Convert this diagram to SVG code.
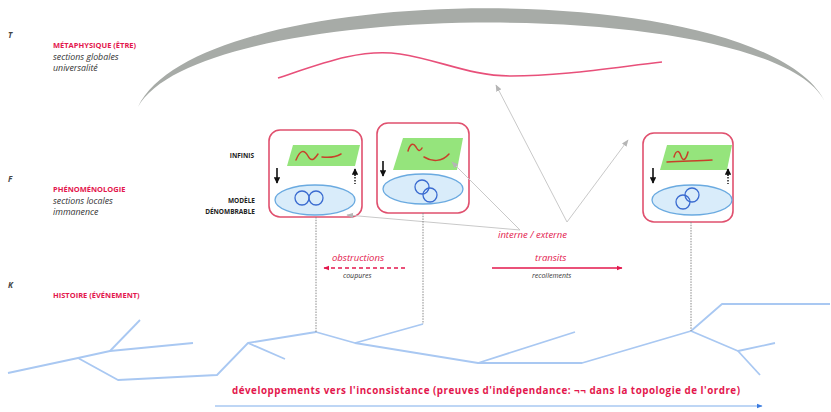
<svg xmlns="http://www.w3.org/2000/svg" width="831" height="412" viewBox="0 0 831 412">
<style>
.lbl{font-family:"Open Sans","Liberation Sans",sans-serif}
.axis{font-size:8px;font-style:italic;font-weight:bold;fill:#444}
.red{fill:#e3174d;font-weight:bold;font-size:7.5px}
.it{font-style:italic;fill:#333;font-size:8.8px}
.cap{font-weight:bold;font-size:6.5px;fill:#222}
.redit{fill:#e3174d;font-style:italic;font-size:9.5px}
.sm{font-style:italic;fill:#333;font-size:7px}
.box{fill:#fff;stroke:#e0506e;stroke-width:1.6}
.grn{fill:#95e47c}
.sq{fill:none;stroke:#c8402a;stroke-width:1.5;stroke-linecap:round}
.ell{fill:#d9ecfa;stroke:#6aaae0;stroke-width:1.3}
.cir{fill:none;stroke:#3a6bd0;stroke-width:1.3}
.blk{stroke:#111;stroke-width:1.6}
.dotv{stroke:#888;stroke-width:1;stroke-dasharray:1.5 1.2}
.tree{fill:none;stroke:#a9c8f2;stroke-width:1.8;stroke-linejoin:round}
.gl{stroke:#c9c9c9;stroke-width:1;fill:none}
</style>
<defs>
<marker id="ga" viewBox="0 0 10 10" refX="9" refY="5" markerWidth="7" markerHeight="7" orient="auto"><path d="M0,1 L10,5 L0,9 z" fill="#b5b5b5"/></marker>
<marker id="ka" viewBox="0 0 10 10" refX="9" refY="5" markerWidth="4" markerHeight="4" orient="auto"><path d="M0,0 L10,5 L0,10 z" fill="#111"/></marker>
<marker id="ra" viewBox="0 0 10 10" refX="9" refY="5" markerWidth="4.5" markerHeight="4.5" orient="auto"><path d="M0,1 L10,5 L0,9 z" fill="#e3174d"/></marker>
<marker id="ba" viewBox="0 0 10 10" refX="9" refY="5" markerWidth="4" markerHeight="4" orient="auto"><path d="M0,1 L10,5 L0,9 z" fill="#3a7be0"/></marker>
</defs>

<g id="arc">
<path d="M138,107 C200,-24 770,-24 826,104 C780,-5 200,-5 138,107 z" fill="#a7aba7"/>
<path d="M278,78 C320,64 360,48 400,54 C440,60 470,76 511,76 C560,76 610,68 662,62" fill="none" stroke="#e8507a" stroke-width="1.6"/>
</g>

<g id="labels" class="lbl">
<text class="axis" x="8" y="38">T</text>
<text class="red" x="53" y="48">MÉTAPHYSIQUE (ÊTRE)</text>
<text class="it" x="53" y="60">sections globales</text>
<text class="it" x="53" y="71">universalité</text>
<text class="axis" x="8" y="182">F</text>
<text class="red" x="53" y="192">PHÉNOMÉNOLOGIE</text>
<text class="it" x="53" y="204">sections locales</text>
<text class="it" x="53" y="215">immanence</text>
<text class="cap" x="254" y="158" text-anchor="end">INFINIS</text>
<text class="cap" x="255" y="203" text-anchor="end">MODÈLE</text>
<text class="cap" x="255" y="214" text-anchor="end">DÉNOMBRABLE</text>
<text class="axis" x="8" y="288">K</text>
<text class="red" x="53" y="298">HISTOIRE (ÉVÉNEMENT)</text>
<text class="redit" x="498" y="238">interne / externe</text>
<text class="redit" x="332" y="261">obstructions</text>
<text class="sm" x="343" y="278">coupures</text>
<text class="redit" x="535" y="261">transits</text>
<text class="sm" x="532" y="278">recollements</text>
<text x="232" y="394" font-size="9.8" font-weight="bold" fill="#e3174d" textLength="508">développements vers l'inconsistance (preuves d'indépendance: ¬¬ dans la topologie de l'ordre)</text>
</g>

<g id="tree">
<polyline class="tree" points="8,373 78,358 110,351 193,343"/>
<polyline class="tree" points="110,351 140,320"/>
<polyline class="tree" points="78,358 118,380 217,375 248,343 316,332 355,343 423,324"/>
<polyline class="tree" points="248,343 285,359"/>
<polyline class="tree" points="355,343 478,363 575,332"/>
<polyline class="tree" points="478,363 582,363 691,331 722,304 830,304"/>
<polyline class="tree" points="691,331 738,351 775,343"/>
<polyline class="tree" points="738,351 760,375"/>
</g>

<g id="box1">
<rect class="box" x="269" y="130" width="93" height="87" rx="11"/>
<polygon class="grn" points="293,145 360,145 355,166 287,166"/>
<path class="sq" d="M296,160 C300,150 304,149 308,156 C311,162 314,160 318,154"/>
<path class="sq" d="M322,157 C330,158 336,157 341,154"/>
<line class="blk" x1="277" y1="168" x2="277" y2="183" marker-end="url(#ka)"/>
<line class="blk" x1="355" y1="176" x2="355" y2="169" marker-end="url(#ka)"/>
<line x1="355" y1="177" x2="355" y2="184" stroke="#111" stroke-width="1.4" stroke-dasharray="1.5 1.5"/>
<ellipse class="ell" cx="315" cy="200" rx="40" ry="15"/>
<circle class="cir" cx="302" cy="198" r="7"/>
<circle class="cir" cx="316" cy="198" r="7"/>
</g>

<g id="box2">
<rect class="box" x="377" y="123" width="92" height="90" rx="11"/>
<polygon class="grn" points="403,138 463,138 457,170 393,170"/>
<path class="sq" d="M408,151 C410,144 413,142 416,147 C418,151 420,152 422,148"/>
<path class="sq" d="M424,157 C432,162 442,162 449,154"/>
<line class="blk" x1="383" y1="161" x2="383" y2="176" marker-end="url(#ka)"/>
<ellipse class="ell" cx="423" cy="189" rx="40" ry="15"/>
<circle class="cir" cx="422" cy="187" r="7"/>
<circle class="cir" cx="430" cy="195" r="7"/>
</g>

<g id="box3">
<rect class="box" x="643" y="133" width="90" height="89" rx="11"/>
<polygon class="grn" points="667,145 732,145 727,170 660,170"/>
<path class="sq" d="M674,157 C676,150 679,150 681,156 C683,162 686,160 688,152"/>
<path class="sq" d="M667,162 C685,161 700,161 712,160"/>
<line class="blk" x1="653" y1="168" x2="653" y2="183" marker-end="url(#ka)"/>
<line class="blk" x1="728" y1="176" x2="728" y2="169" marker-end="url(#ka)"/>
<line x1="728" y1="177" x2="728" y2="184" stroke="#111" stroke-width="1.4" stroke-dasharray="1.5 1.5"/>
<ellipse class="ell" cx="692" cy="200" rx="40" ry="15"/>
<circle class="cir" cx="683" cy="202" r="7"/>
<circle class="cir" cx="692" cy="195" r="7"/>
</g>

<g id="connectors">
<line class="gl" x1="567" y1="222" x2="496" y2="85" marker-end="url(#ga)"/>
<line class="gl" x1="567" y1="222" x2="628" y2="140" marker-end="url(#ga)"/>
<line class="gl" x1="520" y1="230" x2="452" y2="162" marker-end="url(#ga)"/>
<line class="gl" x1="520" y1="230" x2="347" y2="215" marker-end="url(#ga)"/>
<line class="dotv" x1="316" y1="217" x2="316" y2="332"/>
<line class="dotv" x1="423" y1="213" x2="423" y2="324"/>
<line class="dotv" x1="691" y1="222" x2="691" y2="331"/>
<line x1="405" y1="268" x2="324" y2="268" stroke="#e3174d" stroke-width="1.3" stroke-dasharray="4 3" marker-end="url(#ra)"/>
<line x1="492" y1="268" x2="622" y2="268" stroke="#e3174d" stroke-width="1.3" marker-end="url(#ra)"/>
<line x1="215" y1="406" x2="762" y2="406" stroke="#a9c8f2" stroke-width="1.5" marker-end="url(#ba)"/>
</g>
</svg>
